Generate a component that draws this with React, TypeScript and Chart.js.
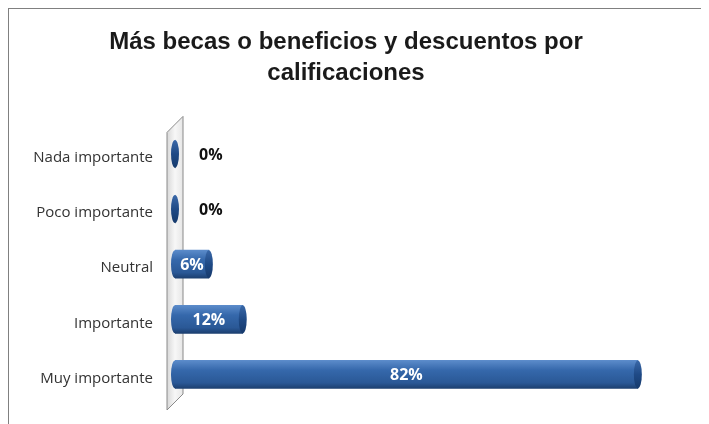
import React, { useEffect, useRef } from "react";
import { Chart, registerables } from "chart.js";

Chart.register(...registerables);

const titleLines = ["Más becas o beneficios y descuentos por", "calificaciones"];
const categories = ["Nada importante", "Poco importante", "Neutral", "Importante", "Muy importante"];
const values = [0, 0, 6, 12, 82];
const valueLabels = ["0%", "0%", "6%", "12%", "82%"];

const wallPlugin = {
  id: "wall",
  beforeDatasetsDraw(chart: any) {
    const { ctx, chartArea } = chart;
    const l = chartArea.left;
    ctx.save();
    ctx.beginPath();
    ctx.moveTo(l - 8, chartArea.top + 6);
    ctx.lineTo(l + 8, chartArea.top - 10);
    ctx.lineTo(l + 8, chartArea.bottom - 8);
    ctx.lineTo(l - 8, chartArea.bottom + 8);
    ctx.closePath();
    const g = ctx.createLinearGradient(l - 8, 0, l + 8, 0);
    g.addColorStop(0, "#d8d8d8");
    g.addColorStop(0.5, "#f7f7f7");
    g.addColorStop(1, "#e6e6e6");
    ctx.fillStyle = g;
    ctx.fill();
    ctx.strokeStyle = "#8a8a8a";
    ctx.lineWidth = 1;
    ctx.stroke();
    ctx.restore();
  },
};

const capPlugin = {
  id: "caps",
  afterDatasetsDraw(chart: any) {
    const { ctx } = chart;
    const meta = chart.getDatasetMeta(0);
    meta.data.forEach((el: any, i: number) => {
      const { x, y, height, base } = el.getProps(["x", "y", "height", "base"], true);
      const ry = height / 2;
      if (values[i] > 0) {
        ctx.save();
        const gl = ctx.createLinearGradient(0, y - ry, 0, y + ry);
        gl.addColorStop(0, "#5b8bca");
        gl.addColorStop(0.35, "#3568ab");
        gl.addColorStop(0.8, "#2a5896");
        gl.addColorStop(1, "#1c3f70");
        ctx.fillStyle = gl;
        ctx.beginPath();
        ctx.ellipse(base, y, 4, ry, 0, 0, Math.PI * 2);
        ctx.fill();
        ctx.restore();
      }
      ctx.save();
      const g = ctx.createLinearGradient(0, y - ry, 0, y + ry);
      g.addColorStop(0, "#3a68a8");
      g.addColorStop(0.5, "#1f4a86");
      g.addColorStop(1, "#163a6c");
      ctx.fillStyle = g;
      ctx.beginPath();
      ctx.ellipse(x, y, 4, ry, 0, 0, Math.PI * 2);
      ctx.fill();
      ctx.restore();

      ctx.save();
      ctx.textBaseline = "middle";
      ctx.font = "bold 16px 'Open Sans', sans-serif";
      if (values[i] === 0) {
        ctx.fillStyle = "#111";
        ctx.textAlign = "left";
        ctx.fillText(valueLabels[i], x + 24, y + 1);
      } else {
        ctx.fillStyle = "#ffffff";
        ctx.textAlign = "center";
        ctx.fillText(valueLabels[i], (x + base) / 2, y + 1);
      }
      ctx.restore();
    });
  },
};

export default function App() {
  const ref = useRef<HTMLCanvasElement>(null);
  useEffect(() => {
    if (!ref.current) return;
    const chart = new Chart(ref.current, {
      type: "bar",
      data: {
        labels: categories,
        datasets: [
          {
            data: values,
            barThickness: 28,
            borderWidth: 0,
            backgroundColor: (c: any) => {
              const ca = c.chart.chartArea;
              if (!ca) return "#2f5f9e";
              const y = c.chart.scales.y.getPixelForValue(c.dataIndex);
              const g = c.chart.ctx.createLinearGradient(0, y - 14, 0, y + 14);
              g.addColorStop(0, "#5b8bca");
              g.addColorStop(0.35, "#3568ab");
              g.addColorStop(0.8, "#2a5896");
              g.addColorStop(1, "#1c3f70");
              return g;
            },
          },
        ],
      },
      options: {
        indexAxis: "y",
        animation: false,
        responsive: false,
        layout: { padding: { left: 0, right: 26, top: 0, bottom: 3 } },
        plugins: {
          legend: { display: false },
          tooltip: { enabled: false },
          title: {
            display: true,
            text: titleLines,
            color: "#1a1a1a",
            font: { family: "'Liberation Sans', Arial, sans-serif", size: 24, weight: "bold", lineHeight: 1.3 },
            padding: { top: 18, bottom: 37 },
          },
        },
        scales: {
          x: {
            display: false,
            min: 0,
            max: 90,
          },
          y: {
            grid: { display: false },
            border: { display: false },
            ticks: {
              color: "#333",
              font: { family: "'Open Sans', sans-serif", size: 15 },
              padding: 14,
              labelOffset: 4,
            },
            afterFit(scale: any) {
              scale.width = 166;
            },
          },
        },
      },
      plugins: [wallPlugin, capPlugin],
    } as any);
    return () => chart.destroy();
  }, []);
  return (
    <div
      style={{
        width: 701,
        height: 416,
        borderLeft: "1px solid #808080",
        borderTop: "1px solid #808080",
        background: "#fff",
      }}
    >
      <canvas ref={ref} width={700} height={416} style={{ display: "block" }} />
    </div>
  );
}
